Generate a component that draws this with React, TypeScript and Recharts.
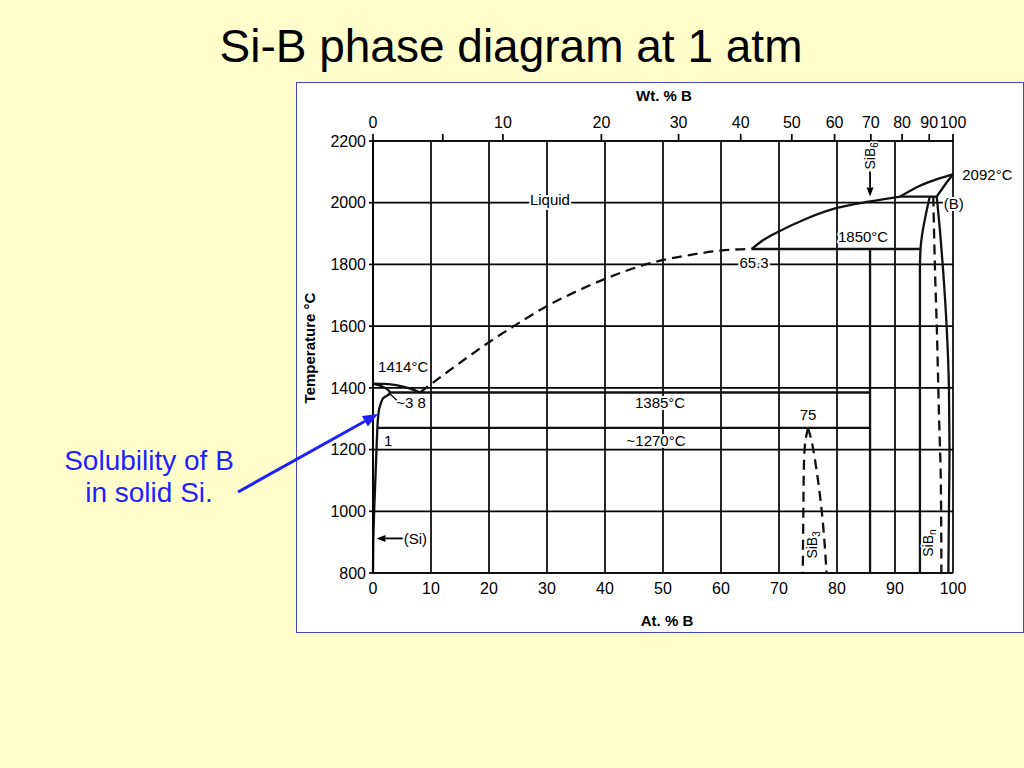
import React from "react";
import {
  ComposedChart,
  XAxis,
  YAxis,
  CartesianGrid,
  Line,
  ReferenceDot,
  ReferenceLine,
} from "recharts";

const FONT = "'Liberation Sans', Arial, Helvetica, sans-serif";

const AT_TICKS = [0, 10, 20, 30, 40, 50, 60, 70, 80, 90, 100];
const WT_TICKS = [0, 5, 10, 20, 30, 40, 50, 60, 70, 80, 90, 100];
const TEMP_TICKS = [800, 1000, 1200, 1400, 1600, 1800, 2000, 2200];

// atomic masses, used to place the wt.% scale on the at.% axis
const M_B = 10.81;
const M_SI = 28.086;

// phase boundaries as [at.% B, temperature °C]
const SI_LIQUIDUS = [[0, 1414], [2, 1413], [4, 1409], [6, 1400], [8.1, 1385]];
const SI_SOLVUS = [
  [0, 1414], [1.5, 1405], [2.9, 1385], [2.0, 1370], [1.5, 1358], [1.1, 1335],
  [0.9, 1310], [0.75, 1270], [0.6, 1200], [0.4, 1100], [0.2, 1000], [0.05, 900], [0, 800],
];
const EUTECTIC_1385 = [[2.9, 1385], [85.7, 1385]];
const LINE_1270 = [[0.75, 1270], [85.7, 1270]];
const LINE_1850 = [[65.3, 1850], [94.4, 1850]];
const LINE_2020 = [[90.9, 2020], [97.2, 2020]];
const SIB6_LINE = [[85.7, 1850], [85.7, 800]];
const LIQUIDUS_DASHED = [
  [8.1, 1385], [12, 1440], [16, 1495], [20, 1548], [24.1, 1598], [29.8, 1663],
  [35, 1712], [39.6, 1750], [47.8, 1804], [55, 1832], [61.3, 1847], [65.3, 1850],
];
const LIQUIDUS_SIB6 = [[65.3, 1850], [67.3, 1879], [69.8, 1905], [74.8, 1949], [80, 1983], [85.7, 2004], [90.9, 2020]];
const LIQUIDUS_B = [[90.9, 2020], [94.3, 2055], [97.5, 2078], [100, 2092]];
const SOLIDUS_B = [[97.2, 2020], [98.5, 2055], [100, 2092]];
const SIBN_LEFT = [[96.0, 2020], [95.3, 1960], [94.7, 1900], [94.4, 1850], [94.3, 1780], [94.3, 1500], [94.3, 1100], [94.3, 800]];
const SIBN_RIGHT = [[97.2, 2020], [97.8, 1900], [98.3, 1780], [98.9, 1600], [99.3, 1400], [99.4, 1200], [99.3, 1000], [99.2, 800]];
const SIBN_DASHED = [[96.6, 2020], [96.9, 1780], [97.2, 1600], [97.6, 1300], [97.9, 1100], [98.0, 800]];
const SIB3_LEFT = [[75, 1270], [74.5, 1220], [74.3, 1150], [74.2, 1000], [74.1, 800]];
const SIB3_RIGHT = [[75, 1270], [75.6, 1230], [76, 1190], [76.8, 1090], [77.4, 995], [78.2, 800]];

type Lbl = { text: string; x: number; y: number; sub?: string; anchor?: string; rotate?: boolean; size?: number };

const LABELS: Lbl[] = [
  { text: "Liquid", x: 30.5, y: 2012 },
  { text: "1850°C", x: 84.5, y: 1890 },
  { text: "65.3", x: 65.7, y: 1806 },
  { text: "2092°C", x: 101.6, y: 2090, anchor: "start" },
  { text: "(B)", x: 98.4, y: 1996, anchor: "start" },
  { text: "1414°C", x: 5.2, y: 1469 },
  { text: "~3", x: 5.5, y: 1351 },
  { text: "8", x: 8.4, y: 1351 },
  { text: "1385°C", x: 49.5, y: 1351 },
  { text: "75", x: 75, y: 1315 },
  { text: "~1270°C", x: 48.8, y: 1231 },
  { text: "1", x: 2.6, y: 1231 },
  { text: "(Si)", x: 5.3, y: 912, anchor: "start" },
  { text: "SiB", sub: "3", x: 75.7, y: 891, rotate: true, size: 14 },
  { text: "SiB", sub: "n", x: 95.7, y: 897, rotate: true, size: 14 },
  { text: "SiB", sub: "6", x: 85.7, y: 2152, rotate: true, size: 14 },
];

const pts = (a: number[][]) => a.map(([x, y]) => ({ x, y }));

const atFromWt = (w: number) =>
  w >= 100 ? 100 : ((w / M_B) / (w / M_B + (100 - w) / M_SI)) * 100;

const WT_POS = WT_TICKS.map((w) => ({ w, pos: atFromWt(w) }));

const wtFormatter = (v: number) => {
  const t = WT_POS.find((d) => Math.abs(d.pos - v) < 1e-6);
  return t && t.w !== 5 ? String(t.w) : "";
};

// [points, curve type, x axis]; both x axes share the at.% domain
const SOLID: [number[][], string, string | number][] = [
  [SI_LIQUIDUS, "monotone", 0],
  [SI_SOLVUS, "natural", 0],
  [EUTECTIC_1385, "linear", 0],
  [LINE_1270, "linear", 0],
  [LINE_1850, "linear", 0],
  [LINE_2020, "linear", "wt"],
  [SIB6_LINE, "linear", 0],
  [LIQUIDUS_SIB6, "monotone", 0],
  [LIQUIDUS_B, "monotone", "wt"],
  [SOLIDUS_B, "monotone", 0],
  [SIBN_LEFT, "monotoneY", 0],
  [SIBN_RIGHT, "monotoneY", 0],
];

const DASHED: [number[][], string][] = [
  [LIQUIDUS_DASHED, "monotone"],
  [SIB3_LEFT, "monotoneY"],
  [SIB3_RIGHT, "monotoneY"],
  [SIBN_DASHED, "monotoneY"],
];

const labelShape = (l: Lbl) => (p: any) => {
  const { cx, cy } = p;
  return (
    <text
      x={cx}
      y={cy}
      textAnchor={l.anchor || "middle"}
      dominantBaseline="central"
      fontFamily={FONT}
      fontSize={l.size || 15}
      fill="#000"
      stroke="#fff"
      strokeWidth={l.rotate ? 3 : 4}
      strokeLinejoin="round"
      paintOrder="stroke"
      transform={l.rotate ? `rotate(-90 ${cx} ${cy})` : undefined}
    >
      {l.text}
      {l.sub && (
        <tspan dy={4} fontSize={10}>
          {l.sub}
        </tspan>
      )}
    </text>
  );
};

// arrow with its tip on the point, tail offset by (dx, dy) pixels
const arrowShape = (dx: number, dy: number) => (p: any) => {
  const { cx, cy } = p;
  const len = Math.hypot(dx, dy);
  const ux = dx / len;
  const uy = dy / len;
  const bx = cx + ux * 9;
  const by = cy + uy * 9;
  return (
    <g>
      <line x1={cx + dx} y1={cy + dy} x2={bx} y2={by} stroke="#000" strokeWidth={1.8} />
      <polygon
        points={`${cx},${cy} ${bx - uy * 3.5},${by + ux * 3.5} ${bx + uy * 3.5},${by - ux * 3.5}`}
        fill="#000"
      />
    </g>
  );
};

const BlueArrow = () => {
  const x1 = 238, y1 = 492, x2 = 378, y2 = 414;
  const len = Math.hypot(x2 - x1, y2 - y1);
  const ux = (x2 - x1) / len;
  const uy = (y2 - y1) / len;
  const bx = x2 - ux * 15;
  const by = y2 - uy * 15;
  return (
    <g>
      <line x1={x1} y1={y1} x2={bx} y2={by} stroke="#1f1fff" strokeWidth={3} />
      <polygon
        points={`${x2},${y2} ${bx - uy * 6},${by + ux * 6} ${bx + uy * 6},${by - ux * 6}`}
        fill="#1f1fff"
      />
    </g>
  );
};

export default function App() {
  return (
    <div
      style={{
        position: "relative",
        width: 1024,
        height: 768,
        background: "#FFFFCC",
        overflow: "hidden",
        fontFamily: FONT,
      }}
    >
      <style>{`body{margin:0}`}</style>
      <div
        style={{
          position: "absolute",
          left: 296,
          top: 82,
          width: 728,
          height: 551,
          background: "#fff",
          border: "1px solid #4646c8",
          boxSizing: "border-box",
        }}
      />
      <div style={{ position: "absolute", left: 0, top: 0 }}>
        <ComposedChart
          width={1024}
          height={768}
          margin={{ top: 111, right: 71, bottom: 165, left: 323 }}
        >
          <CartesianGrid stroke="#000" strokeWidth={1.7} />
          <XAxis
            type="number"
            dataKey="x"
            domain={[0, 100]}
            ticks={AT_TICKS}
            interval={0}
            height={30}
            tickSize={0}
            tickMargin={10}
            axisLine={{ stroke: "#000", strokeWidth: 1.7 }}
            tick={{ fill: "#000", fontSize: 16, fontFamily: FONT }}
          />
          <XAxis
            xAxisId="wt"
            dataKey="x"
            orientation="top"
            type="number"
            domain={[0, 100]}
            ticks={WT_POS.map((d) => d.pos)}
            tickFormatter={wtFormatter}
            interval={0}
            height={30}
            tickSize={7}
            tickMargin={6}
            axisLine={{ stroke: "#000", strokeWidth: 1.7 }}
            tickLine={{ stroke: "#000", strokeWidth: 1.7 }}
            tick={{ fill: "#000", fontSize: 16, fontFamily: FONT }}
          />
          <YAxis
            type="number"
            domain={[800, 2200]}
            ticks={TEMP_TICKS}
            interval={0}
            width={50}
            tickSize={4}
            tickMargin={3}
            axisLine={{ stroke: "#000", strokeWidth: 1.7 }}
            tickLine={{ stroke: "#000", strokeWidth: 1.7 }}
            tick={{ fill: "#000", fontSize: 16, fontFamily: FONT }}
          />
          {SOLID.map(([d, t, ax], i) => (
            <Line
              key={`s${i}`}
              xAxisId={ax}
              data={pts(d)}
              dataKey="y"
              type={t as any}
              stroke="#111"
              strokeWidth={2.3}
              dot={false}
              activeDot={false}
              isAnimationActive={false}
            />
          ))}
          {DASHED.map(([d, t], i) => (
            <Line
              key={`d${i}`}
              data={pts(d)}
              dataKey="y"
              type={t as any}
              stroke="#111"
              strokeWidth={2.3}
              strokeDasharray="10 6"
              dot={false}
              activeDot={false}
              isAnimationActive={false}
            />
          ))}
          <ReferenceLine
            segment={[{ x: 2.7, y: 1384 }, { x: 4.1, y: 1360 }]}
            stroke="#000"
            strokeWidth={1.2}
            ifOverflow="visible"
          />
          <ReferenceDot x={85.7} y={2020} r={1} ifOverflow="visible" shape={arrowShape(0, -25)} />
          <ReferenceDot x={0.6} y={912} r={1} ifOverflow="visible" shape={arrowShape(28, 0)} />
          {LABELS.map((l, i) => (
            <ReferenceDot
              key={`l${i}`}
              x={l.x}
              y={l.y}
              r={1}
              ifOverflow="visible"
              shape={labelShape(l)}
            />
          ))}
        </ComposedChart>
      </div>
      <svg
        width={1024}
        height={768}
        style={{ position: "absolute", left: 0, top: 0, pointerEvents: "none" }}
      >
        <text x={511} y={62} textAnchor="middle" fontFamily={FONT} fontSize={46} fill="#000">
          Si-B phase diagram at 1 atm
        </text>
        <text x={664} y={95} textAnchor="middle" dominantBaseline="central" fontFamily={FONT} fontSize={15} fontWeight="bold" fill="#000">
          Wt. % B
        </text>
        <text x={667} y={620} textAnchor="middle" dominantBaseline="central" fontFamily={FONT} fontSize={15} fontWeight="bold" fill="#000">
          At. % B
        </text>
        <text
          x={309}
          y={348}
          textAnchor="middle"
          dominantBaseline="central"
          fontFamily={FONT}
          fontSize={15}
          fontWeight="bold"
          fill="#000"
          transform="rotate(-90 309 348)"
        >
          Temperature °C
        </text>
        <text x={149} y={460} textAnchor="middle" dominantBaseline="central" fontFamily={FONT} fontSize={28} fill="#1f1fff">
          Solubility of B
        </text>
        <text x={149} y={492} textAnchor="middle" dominantBaseline="central" fontFamily={FONT} fontSize={28} fill="#1f1fff">
          in solid Si.
        </text>
        <BlueArrow />
      </svg>
    </div>
  );
}
